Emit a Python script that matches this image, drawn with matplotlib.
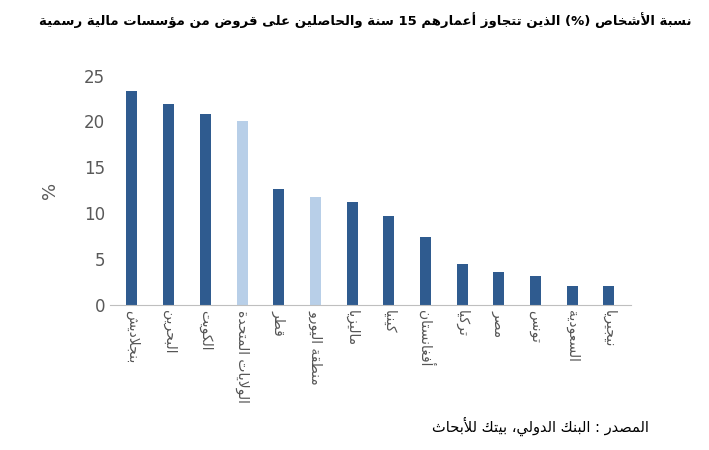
import matplotlib
matplotlib.use("Agg")
import matplotlib.pyplot as plt

categories = ["بنجلاديش", "البحرين", "الكويت", "الولايات المتحدة", "قطر", "منطقة اليورو",
              "ماليزيا", "كينيا", "أفغانستان", "تركيا", "مصر", "تونس", "السعودية", "نيجيريا"]
values = [23.3, 21.9, 20.8, 20.1, 12.6, 11.8, 11.2, 9.7, 7.4, 4.5, 3.6, 3.2, 2.1, 2.1]
highlight = [False, False, False, True, False, True, False, False, False, False, False, False, False, False]
title = "نسبة الأشخاص (%) الذين تتجاوز أعمارهم 15 سنة والحاصلين على قروض من مؤسسات مالية رسمية"
source = "المصدر : البنك الدولي، بيتك للأبحاث"

# --- minimal Arabic shaping ---
F = {
 'ء': (0xFE80,), 'آ': (0xFE81, 0xFE82), 'أ': (0xFE83, 0xFE84), 'ؤ': (0xFE85, 0xFE86),
 'إ': (0xFE87, 0xFE88), 'ئ': (0xFE89, 0xFE8A, 0xFE8B, 0xFE8C), 'ا': (0xFE8D, 0xFE8E),
 'ب': (0xFE8F, 0xFE90, 0xFE91, 0xFE92), 'ة': (0xFE93, 0xFE94), 'ت': (0xFE95, 0xFE96, 0xFE97, 0xFE98),
 'ث': (0xFE99, 0xFE9A, 0xFE9B, 0xFE9C), 'ج': (0xFE9D, 0xFE9E, 0xFE9F, 0xFEA0),
 'ح': (0xFEA1, 0xFEA2, 0xFEA3, 0xFEA4), 'خ': (0xFEA5, 0xFEA6, 0xFEA7, 0xFEA8),
 'د': (0xFEA9, 0xFEAA), 'ذ': (0xFEAB, 0xFEAC), 'ر': (0xFEAD, 0xFEAE), 'ز': (0xFEAF, 0xFEB0),
 'س': (0xFEB1, 0xFEB2, 0xFEB3, 0xFEB4), 'ش': (0xFEB5, 0xFEB6, 0xFEB7, 0xFEB8),
 'ص': (0xFEB9, 0xFEBA, 0xFEBB, 0xFEBC), 'ض': (0xFEBD, 0xFEBE, 0xFEBF, 0xFEC0),
 'ط': (0xFEC1, 0xFEC2, 0xFEC3, 0xFEC4), 'ظ': (0xFEC5, 0xFEC6, 0xFEC7, 0xFEC8),
 'ع': (0xFEC9, 0xFECA, 0xFECB, 0xFECC), 'غ': (0xFECD, 0xFECE, 0xFECF, 0xFED0),
 'ف': (0xFED1, 0xFED2, 0xFED3, 0xFED4), 'ق': (0xFED5, 0xFED6, 0xFED7, 0xFED8),
 'ك': (0xFED9, 0xFEDA, 0xFEDB, 0xFEDC), 'ل': (0xFEDD, 0xFEDE, 0xFEDF, 0xFEE0),
 'م': (0xFEE1, 0xFEE2, 0xFEE3, 0xFEE4), 'ن': (0xFEE5, 0xFEE6, 0xFEE7, 0xFEE8),
 'ه': (0xFEE9, 0xFEEA, 0xFEEB, 0xFEEC), 'و': (0xFEED, 0xFEEE), 'ى': (0xFEEF, 0xFEF0),
 'ي': (0xFEF1, 0xFEF2, 0xFEF3, 0xFEF4),
 '\uFEF5': (0xFEF5, 0xFEF6), '\uFEF7': (0xFEF7, 0xFEF8), '\uFEF9': (0xFEF9, 0xFEFA), '\uFEFB': (0xFEFB, 0xFEFC),
}
LA = {'آ': '\uFEF5', 'أ': '\uFEF7', 'إ': '\uFEF9', 'ا': '\uFEFB'}

def shape(s):
    t = []
    i = 0
    while i < len(s):
        if s[i] == 'ل' and i + 1 < len(s) and s[i + 1] in LA:
            t.append(LA[s[i + 1]]); i += 2
        else:
            t.append(s[i]); i += 1
    out = []
    for i, c in enumerate(t):
        if c not in F:
            out.append(c); continue
        f = F[c]
        p = t[i - 1] if i > 0 else None
        n = t[i + 1] if i + 1 < len(t) else None
        jp = p in F and len(F[p]) == 4
        jn = len(f) == 4 and n in F
        if len(f) == 1:
            out.append(chr(f[0]))
        elif jp and jn:
            out.append(chr(f[3]))
        elif jn:
            out.append(chr(f[2]))
        elif jp:
            out.append(chr(f[1]))
        else:
            out.append(chr(f[0]))
    runs, cur = [], ""
    for c in out:
        if c.isdigit():
            cur += c
        else:
            if cur:
                runs.append(cur); cur = ""
            runs.append({'(': ')', ')': '('}.get(c, c))
    if cur:
        runs.append(cur)
    return "".join(reversed(runs))

plt.rcParams['font.family'] = ['DejaVu Sans']
fig = plt.figure(figsize=(7.09, 4.5), dpi=100)
ax = fig.add_axes([0.155, 0.322, 0.735, 0.51])
x = list(range(len(categories)))
colors = ['#B8CFE8' if h else '#2F5B8F' for h in highlight]
ax.bar(x, values, width=0.3, color=colors)
ax.set_ylim(0, 25)
ax.set_yticks([0, 5, 10, 15, 20, 25])
ax.set_xlim(-0.6, len(categories) - 0.4)
ax.set_xticks(x)
ax.set_xticklabels([shape(c) for c in categories], rotation=270, fontsize=10, color='#555555', va='top', ha='center')
ax.tick_params(axis='y', labelsize=12, colors='#595959', length=0)
ax.tick_params(axis='x', length=0)
for s in ['top', 'right', 'left']:
    ax.spines[s].set_visible(False)
ax.spines['bottom'].set_color('#BFBFBF')
ax.set_ylabel('%', fontsize=13, color='#595959', labelpad=18)
fig.text(0.975, 0.955, shape(title), ha='right', va='center', fontsize=9.5, fontweight='bold')
fig.text(0.915, 0.052, shape(source), ha='right', va='center', fontsize=10.5, style='normal')
fig.savefig('out.png', dpi=100)
